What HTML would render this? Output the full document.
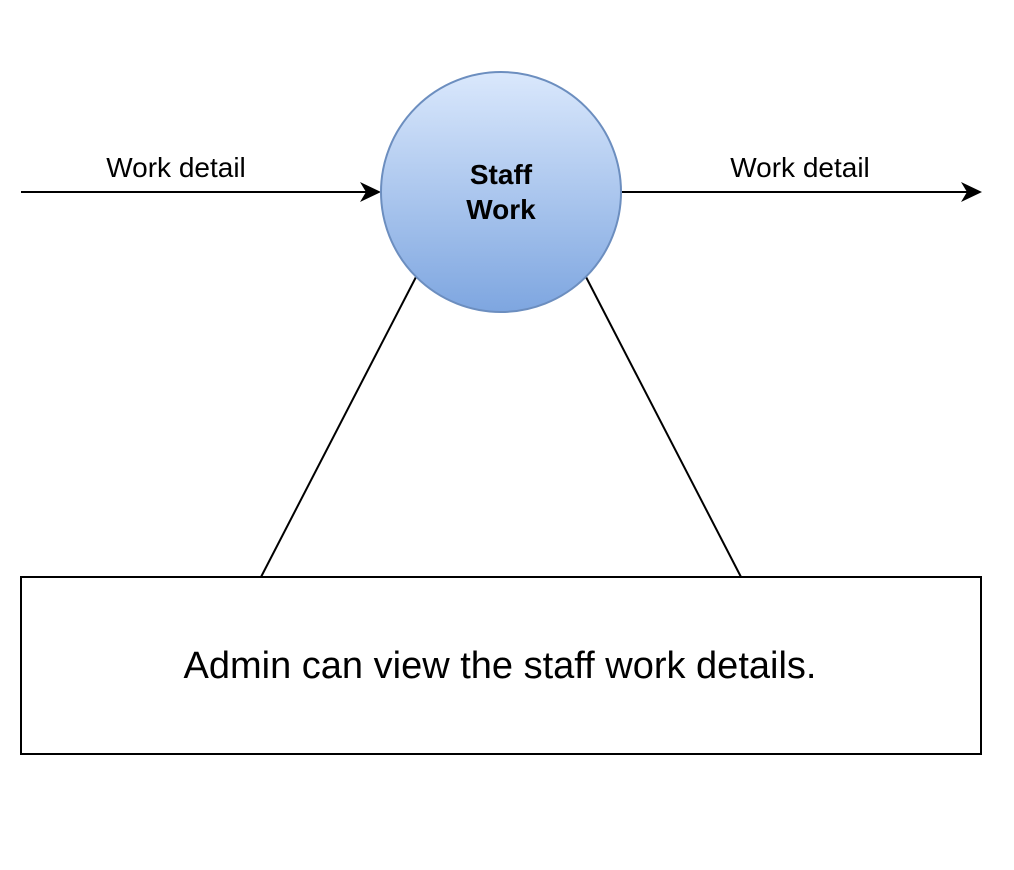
<!DOCTYPE html>
<html><head><meta charset="utf-8"><style>
html,body{margin:0;padding:0;background:#fff;}
svg{display:block;}
text{font-family:"Liberation Sans",Arial,sans-serif;}
</style></head><body>
<svg width="1014" height="870" viewBox="0 0 1014 870" xmlns="http://www.w3.org/2000/svg">
<defs>
<linearGradient id="g" x1="0" y1="0" x2="0" y2="1">
<stop offset="0" stop-color="#dae8fc"/><stop offset="1" stop-color="#7ea6e0"/>
</linearGradient>
</defs>
<rect width="1014" height="870" fill="#fff"/>
<line x1="21" y1="192" x2="368" y2="192" stroke="#000" stroke-width="2"/>
<path d="M381,192 L360,182 L366,192 L360,202 Z" fill="#000"/>
<line x1="621" y1="192" x2="968" y2="192" stroke="#000" stroke-width="2"/>
<path d="M982,192 L961,182 L967,192 L961,202 Z" fill="#000"/>
<text x="176" y="177" font-size="28" text-anchor="middle">Work detail</text>
<text x="800" y="177" font-size="28" text-anchor="middle">Work detail</text>
<line x1="416" y1="277" x2="261" y2="577" stroke="#000" stroke-width="2"/>
<line x1="586" y1="277" x2="741" y2="577" stroke="#000" stroke-width="2"/>
<circle cx="501" cy="192" r="120" fill="url(#g)" stroke="#6c8ebf" stroke-width="2"/>
<text x="501" y="184" font-size="28" font-weight="bold" text-anchor="middle">Staff</text>
<text x="501" y="219" font-size="28" font-weight="bold" text-anchor="middle">Work</text>
<rect x="21" y="577" width="960" height="177" fill="#fff" stroke="#000" stroke-width="2"/>
<text x="500" y="678" font-size="38" text-anchor="middle">Admin can view the staff work details.</text>
</svg>
</body></html>
